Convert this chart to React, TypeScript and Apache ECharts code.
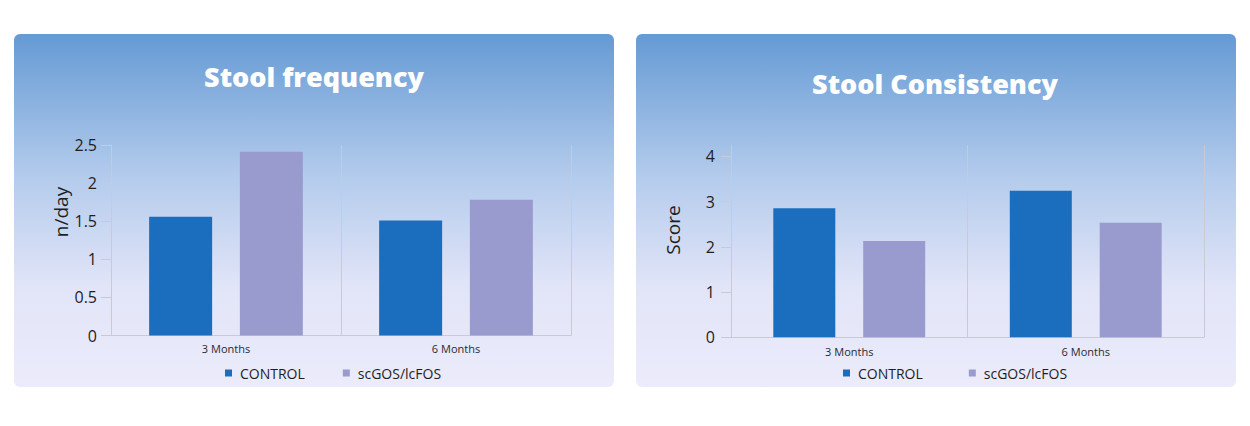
import React, { useEffect, useRef } from "react";
import * as echarts from "echarts";

const categories = ["3 Months", "6 Months"];
const seriesNames = ["CONTROL", "scGOS/lcFOS"];
const freqControl = [1.56, 1.51];
const freqScgos = [2.41, 1.78];
const consControl = [2.85, 3.24];
const consScgos = [2.13, 2.53];
const consTicks = [0, 1, 2, 3, 4];

const BLUE = "#1b6ebd";
const LAV = "#999bcf";
const AXIS = "#c9cad3";
const SANS = "'Open Sans', 'Noto Sans', sans-serif";

export default function App() {
  const ref = useRef<HTMLDivElement>(null);
  useEffect(() => {
    document.body.style.margin = "0";
    const chart = echarts.init(ref.current!, undefined, { renderer: "svg" });
    const panelFill = () =>
      new echarts.graphic.LinearGradient(0, 0, 0, 1, [
        { offset: 0, color: "#659ad4" },
        { offset: 0.4, color: "#b3cbec" },
        { offset: 0.72, color: "#e2e5f8" },
        { offset: 1, color: "#ebebfb" },
      ]);
    const yAxisBase = {
      type: "value" as const,
      min: 0,
      splitLine: { show: false },
      axisLine: { show: true, lineStyle: { color: AXIS, width: 1 } },
      axisTick: { show: true, length: 10, lineStyle: { color: AXIS } },
      axisLabel: { color: "#1e1e1e", fontSize: 16, fontFamily: SANS },
    };
    const xAxisBase = {
      type: "category" as const,
      data: categories,
      axisLine: { show: true, lineStyle: { color: AXIS } },
      axisTick: { show: false },
      splitLine: { show: true, lineStyle: { color: AXIS, width: 1 } },
      axisLabel: { color: "#2a2a2a", fontSize: 11, fontFamily: SANS },
    };
    const legendBase = {
      icon: "rect",
      itemWidth: 7,
      itemHeight: 7,
      textStyle: { color: "#1e1e1e", fontSize: 14, fontFamily: SANS, padding: [0, 0, 0, 3] },
      data: seriesNames,
    };
    const titleFont = `800 27px ${SANS}`;
    const nameFont = `19px ${SANS}`;
    chart.setOption({
      animation: false,
      graphic: [
        { type: "rect", z: -10, shape: { x: 14, y: 34, width: 600, height: 353, r: 6 }, style: { fill: panelFill() } },
        { type: "rect", z: -10, shape: { x: 636, y: 34, width: 600, height: 353, r: 6 }, style: { fill: panelFill() } },
        {
          type: "text", x: 314, y: 76,
          style: { text: "Stool frequency", fill: "#ffffff", font: titleFont, align: "center", verticalAlign: "middle" },
        },
        {
          type: "text", x: 935, y: 83,
          style: { text: "Stool Consistency", fill: "#ffffff", font: titleFont, align: "center", verticalAlign: "middle" },
        },
        {
          type: "text", x: 61, y: 212, rotation: Math.PI / 2,
          style: { text: "n/day", fill: "#1e1e1e", font: nameFont, align: "center", verticalAlign: "middle" },
        },
        {
          type: "text", x: 673, y: 230, rotation: Math.PI / 2,
          style: { text: "Score", fill: "#1e1e1e", font: nameFont, align: "center", verticalAlign: "middle" },
        },
      ],
      legend: [
        { ...legendBase, left: 220, top: 361, itemGap: 38 },
        { ...legendBase, left: 838, top: 361, itemGap: 46 },
      ],
      grid: [
        { left: 111, right: 1250 - 571, top: 145, bottom: 426 - 335.5 },
        { left: 731, right: 1250 - 1204, top: 145, bottom: 426 - 337.3 },
      ],
      xAxis: [
        { ...xAxisBase, gridIndex: 0, axisLabel: { ...xAxisBase.axisLabel, margin: 7 } },
        { ...xAxisBase, gridIndex: 1, axisLabel: { ...xAxisBase.axisLabel, margin: 9 } },
      ],
      yAxis: [
        {
          ...yAxisBase, gridIndex: 0, max: 2.5, interval: 0.5,
          axisLabel: { ...yAxisBase.axisLabel, margin: 14 },
        },
        {
          ...yAxisBase, gridIndex: 1, max: 4.25, interval: 1,
          axisTick: { ...yAxisBase.axisTick, customValues: consTicks },
          axisLabel: { ...yAxisBase.axisLabel, margin: 16, customValues: consTicks },
        },
      ],
      series: [
        { name: seriesNames[0], type: "bar", xAxisIndex: 0, yAxisIndex: 0, data: freqControl, barWidth: 63, barGap: "44%", itemStyle: { color: BLUE } },
        { name: seriesNames[1], type: "bar", xAxisIndex: 0, yAxisIndex: 0, data: freqScgos, barWidth: 63, barGap: "44%", itemStyle: { color: LAV } },
        { name: seriesNames[0], type: "bar", xAxisIndex: 1, yAxisIndex: 1, data: consControl, barWidth: 62, barGap: "45%", itemStyle: { color: BLUE } },
        { name: seriesNames[1], type: "bar", xAxisIndex: 1, yAxisIndex: 1, data: consScgos, barWidth: 62, barGap: "45%", itemStyle: { color: LAV } },
      ],
    });
    return () => chart.dispose();
  }, []);
  return <div ref={ref} style={{ position: "fixed", left: 0, top: 0, width: 1250, height: 426, background: "#ffffff" }} />;
}
